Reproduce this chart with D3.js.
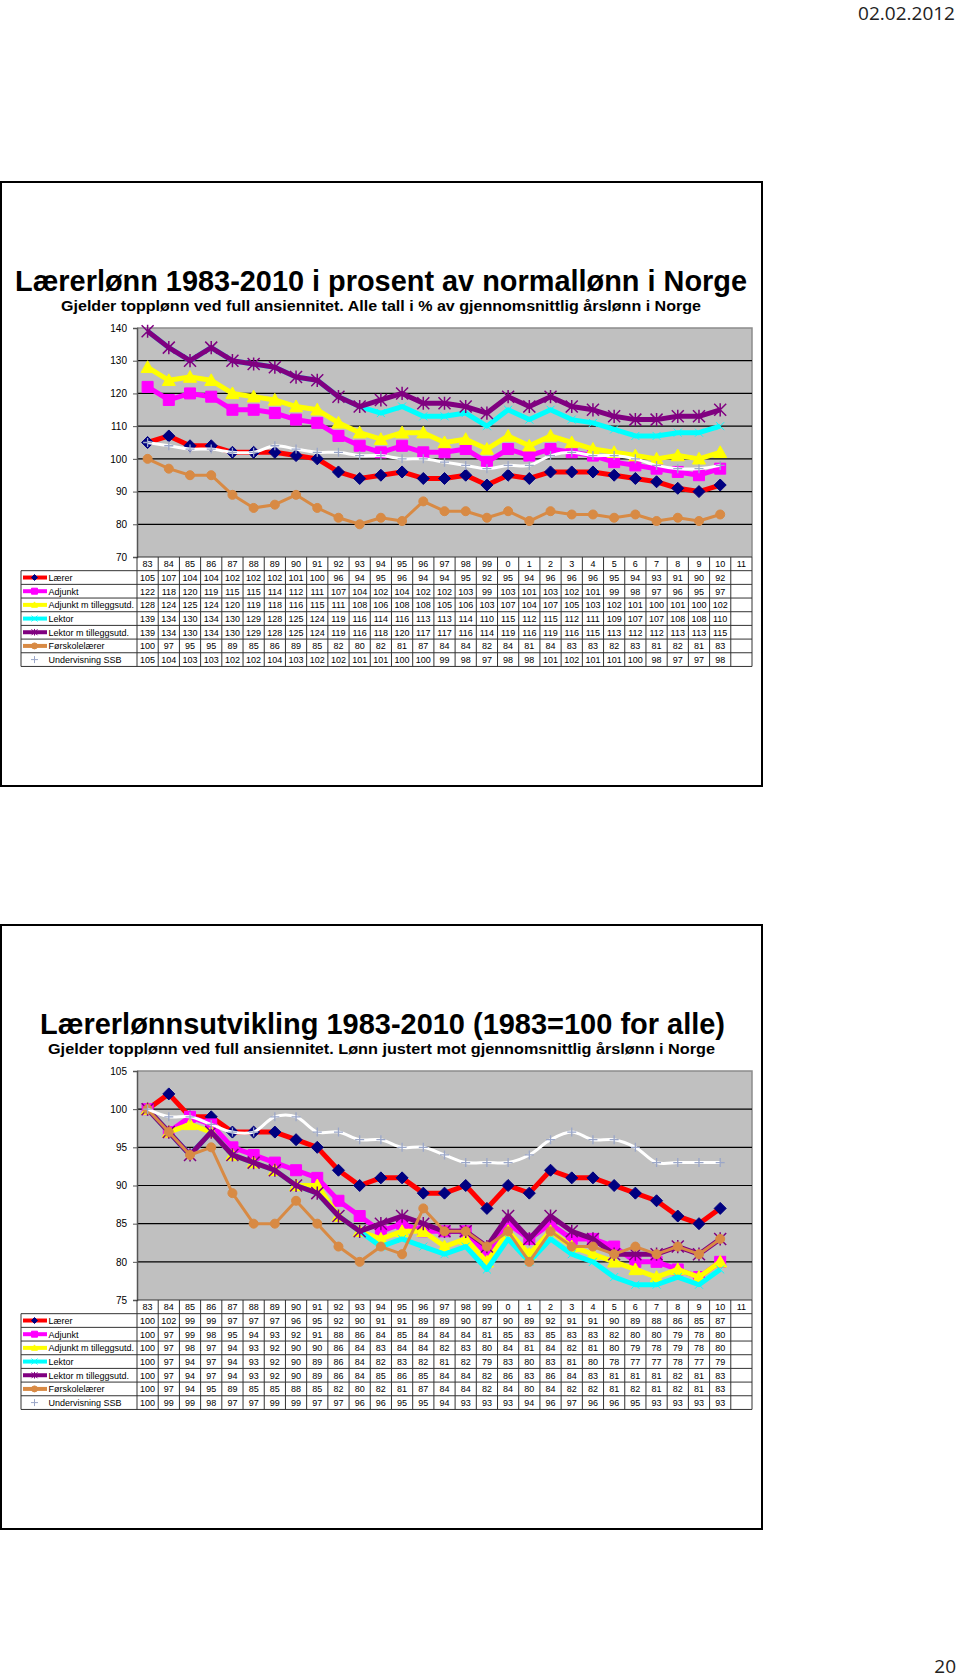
<!DOCTYPE html>
<html><head><meta charset="utf-8">
<script src="https://cdn.jsdelivr.net/npm/d3@7"></script>
<style>body{margin:0;background:#fff}svg{display:block}</style>
</head><body>
<script>
// ---------- data ----------
const categories = ["83","84","85","86","87","88","89","90","91","92","93","94","95","96","97","98","99","0","1","2","3","4","5","6","7","8","9","10","11"];
const seriesNames = ["Lærer","Adjunkt","Adjunkt m tilleggsutd.","Lektor","Lektor m tilleggsutd.","Førskolelærer","Undervisning SSB"];

// Chart 1: % av gjennomsnittlig årslønn
const pctLaerer   = [105,107,104,104,102,102,102,101,100,96,94,95,96,94,94,95,92,95,94,96,96,96,95,94,93,91,90,92];
const pctAdjunkt  = [122,118,120,119,115,115,114,112,111,107,104,102,104,102,102,103,99,103,101,103,102,101,99,98,97,96,95,97];
const pctAdjunktT = [128,124,125,124,120,119,118,116,115,111,108,106,108,108,105,106,103,107,104,107,105,103,102,101,100,101,100,102];
const pctLektor   = [139,134,130,134,130,129,128,125,124,119,116,114,116,113,113,114,110,115,112,115,112,111,109,107,107,108,108,110];
const pctLektorT  = [139,134,130,134,130,129,128,125,124,119,116,118,120,117,117,116,114,119,116,119,116,115,113,112,112,113,113,115];
const pctForskole = [100,97,95,95,89,85,86,89,85,82,80,82,81,87,84,84,82,84,81,84,83,83,82,83,81,82,81,83];
const pctSSB      = [105,104,103,103,102,102,104,103,102,102,101,101,100,100,99,98,97,98,98,101,102,101,101,100,98,97,97,98];

// Chart 2: 1983 = 100
const idxLaerer   = [100,102,99,99,97,97,97,96,95,92,90,91,91,89,89,90,87,90,89,92,91,91,90,89,88,86,85,87];
const idxAdjunkt  = [100,97,99,98,95,94,93,92,91,88,86,84,85,84,84,84,81,85,83,85,83,83,82,80,80,79,78,80];
const idxAdjunktT = [100,97,98,97,94,93,92,90,90,86,84,83,84,84,82,83,80,84,81,84,82,81,80,79,78,79,78,80];
const idxLektor   = [100,97,94,97,94,93,92,90,89,86,84,82,83,82,81,82,79,83,80,83,81,80,78,77,77,78,77,79];
const idxLektorT  = [100,97,94,97,94,93,92,90,89,86,84,85,86,85,84,84,82,86,83,86,84,83,81,81,81,82,81,83];
const idxForskole = [100,97,94,95,89,85,85,88,85,82,80,82,81,87,84,84,82,84,80,84,82,82,81,82,81,82,81,83];
const idxSSB      = [100,99,99,98,97,97,99,99,97,97,96,96,95,95,94,93,93,93,94,96,97,96,96,95,93,93,93,93];

const ticks1 = [70,80,90,100,110,120,130,140];
const ticks2 = [75,80,85,90,95,100,105];

const title1 = "Lærerlønn 1983-2010 i prosent av normallønn i Norge";
const sub1 = "Gjelder topplønn ved full ansiennitet. Alle tall i % av gjennomsnittlig årslønn i Norge";
const title2 = "Lærerlønnsutvikling 1983-2010 (1983=100 for alle)";
const sub2 = "Gjelder topplønn ved full ansiennitet. Lønn justert mot gjennomsnittlig årslønn i Norge";

// ---------- styles ----------
const styles = [
  {line:"#ff0000", w:5,   marker:"diamond",  mfill:"#000080", mstroke:"#000080", r:6},
  {line:"#ff00ff", w:5,   marker:"square",   mfill:"#ff00ff", mstroke:"#ff00ff", r:5.5},
  {line:"#ffff00", w:5,   marker:"triangle", mfill:"#ffff00", mstroke:"#ffff00", r:6.5},
  {line:"#00ffff", w:5,   marker:"x",        mfill:"none",    mstroke:"#00ffff", r:4},
  {line:"#800080", w:5,   marker:"star",     mfill:"none",    mstroke:"#800080", r:6},
  {line:"#d88a44", w:3,   marker:"circle",   mfill:"#d88a44", mstroke:"#d88a44", r:4.5},
  {line:"#ffffff", w:3,   marker:"plus",     mfill:"none",    mstroke:"#9aa6c8", r:4.5, smooth:true}
];

function markerPath(type, r){
  switch(type){
    case "diamond": return `M0,${-r}L${r},0L0,${r}L${-r},0Z`;
    case "square": return `M${-r},${-r}H${r}V${r}H${-r}Z`;
    case "triangle": return `M0,${-r}L${r},${r*0.8}L${-r},${r*0.8}Z`;
    case "x": return `M${-r},${-r}L${r},${r}M${-r},${r}L${r},${-r}`;
    case "star": return `M${-r},${-r}L${r},${r}M${-r},${r}L${r},${-r}M0,${-r*1.1}L0,${r*1.1}`;
    case "plus": return `M${-r},0H${r}M0,${-r}V${r}`;
    case "circle": return d3.arc()({innerRadius:0,outerRadius:r,startAngle:0,endAngle:2*Math.PI});
  }
}

const W = 960, H = 1680;
const svg = d3.select("body").append("svg").attr("width",W).attr("height",H);

// page texts
svg.append("text").attr("x",955).attr("y",20).attr("text-anchor","end")
  .attr("font-family","'Open Sans',sans-serif").attr("font-size",19).attr("fill","#222").text("02.02.2012");
svg.append("text").attr("x",956).attr("y",1673).attr("text-anchor","end")
  .attr("font-family","'Open Sans',sans-serif").attr("font-size",19).attr("fill","#222").text("20");

function drawSlide(cfg){
  const g = svg.append("g");
  // frame
  g.append("rect").attr("x",1).attr("y",cfg.frameTop).attr("width",761).attr("height",604)
    .attr("fill","#fff").attr("stroke","#000").attr("stroke-width",2);
  const tf = "'Liberation Sans Narrow','Arial Narrow','Liberation Sans',Arial,sans-serif";
  g.append("text").attr("x",cfg.tx).attr("y",cfg.frameTop+109).attr("font-family",tf)
    .attr("font-weight","bold").attr("font-size",29).attr("textLength",cfg.tlen)
    .attr("lengthAdjust","spacingAndGlyphs").text(cfg.title);
  g.append("text").attr("x",cfg.sx).attr("y",cfg.frameTop+129).attr("font-family",tf)
    .attr("font-weight","bold").attr("font-size",14).attr("textLength",cfg.slen)
    .attr("lengthAdjust","spacingAndGlyphs").text(cfg.sub);

  const plotTop = cfg.frameTop+146, plotBottom = cfg.frameTop+375;
  const left = 137, right = 752;
  const x = d3.scaleBand().domain(categories).range([left,right]);
  const y = d3.scaleLinear().domain(cfg.domain).range([plotBottom,plotTop]);
  const cx = c => x(c)+x.bandwidth()/2;

  // plot area
  g.append("rect").attr("x",left).attr("y",plotTop).attr("width",right-left).attr("height",plotBottom-plotTop)
    .attr("fill","#c0c0c0");
  g.append("path").attr("d",`M${left},${plotTop}H${right}V${plotBottom}`).attr("fill","none")
    .attr("stroke","#8c8c8c").attr("stroke-width",1.5);
  // gridlines
  g.selectAll(null).data(cfg.ticks.slice(1,-1)).join("line")
    .attr("x1",left).attr("x2",right).attr("y1",d=>y(d)).attr("y2",d=>y(d))
    .attr("stroke","#000").attr("stroke-width",1.2);
  // y axis
  const ax = g.append("g").attr("transform",`translate(${left},0)`)
    .call(d3.axisLeft(y).tickValues(cfg.ticks).tickSize(4).tickPadding(6));
  ax.select(".domain").attr("stroke","#555").attr("stroke-width",1.5);
  ax.selectAll(".tick line").attr("stroke","#555");
  ax.selectAll("text").attr("font-family","'Liberation Sans',Arial,sans-serif").attr("font-size",10).attr("fill","#000");

  // series
  cfg.data.forEach((vals,i)=>{
    const st = styles[i];
    const pts = vals.map((v,j)=>[cx(categories[j]), y(v)]);
    const line = d3.line().curve(st.smooth ? d3.curveCatmullRom.alpha(0.5) : d3.curveLinear);
    g.append("path").attr("d",line(pts)).attr("fill","none").attr("stroke",st.line)
      .attr("stroke-width",st.w).attr("stroke-linejoin","round");
    g.selectAll(null).data(pts).join("path")
      .attr("transform",d=>`translate(${d[0]},${d[1]})`)
      .attr("d",markerPath(st.marker,st.r))
      .attr("fill",st.mfill).attr("stroke",st.mstroke).attr("stroke-width",st.marker==="star"?1.5:(st.marker==="plus"?1.3:1));
  });

  // data table
  const rowH = 13.68, tTop = plotBottom, tLeft = 21;
  const tg = g.append("g");
  const tblStroke = "#333";
  tg.selectAll(null).data(categories).join("text")
    .attr("x",d=>cx(d)).attr("y",tTop+rowH/2+3.3).attr("text-anchor","middle")
    .attr("font-family","'Liberation Sans',Arial,sans-serif").attr("font-size",9).text(d=>d);
  for(let k=0;k<=8;k++){
    const yy = tTop + k*rowH;
    tg.append("line").attr("x1",k===0?left:tLeft).attr("x2",right).attr("y1",yy).attr("y2",yy)
      .attr("stroke",tblStroke).attr("stroke-width",1);
  }
  tg.append("line").attr("x1",tLeft).attr("x2",tLeft).attr("y1",tTop+rowH).attr("y2",tTop+8*rowH)
    .attr("stroke",tblStroke).attr("stroke-width",1);
  for(let j=0;j<=categories.length;j++){
    const xx = left + j*x.step();
    tg.append("line").attr("x1",xx).attr("x2",xx).attr("y1",tTop).attr("y2",tTop+8*rowH)
      .attr("stroke",tblStroke).attr("stroke-width",1);
  }
  cfg.data.forEach((vals,i)=>{
    const st = styles[i];
    const ry = tTop + (i+1)*rowH, mid = ry + rowH/2;
    if(st.line!=="#ffffff"){
      tg.append("line").attr("x1",tLeft+2).attr("x2",47).attr("y1",mid).attr("y2",mid)
        .attr("stroke",st.line).attr("stroke-width",4);
    }
    tg.append("path").attr("transform",`translate(34.5,${mid})`)
      .attr("d",markerPath(st.marker, st.marker==="plus"?3.5:3))
      .attr("fill",st.mfill).attr("stroke",st.mstroke).attr("stroke-width",1);
    tg.append("text").attr("x",48.5).attr("y",mid+3.3)
      .attr("font-family","'Liberation Sans',Arial,sans-serif").attr("font-size",9)
      .text(seriesNames[i]);
    tg.selectAll(null).data(vals).join("text")
      .attr("x",(d,j)=>cx(categories[j])).attr("y",mid+3.3).attr("text-anchor","middle")
      .attr("font-family","'Liberation Sans',Arial,sans-serif").attr("font-size",9).text(d=>d);
  });
}

drawSlide({frameTop:182, title:title1, sub:sub1, tx:15, tlen:732, sx:61, slen:640,
  domain:[70,140], ticks:ticks1,
  data:[pctLaerer,pctAdjunkt,pctAdjunktT,pctLektor,pctLektorT,pctForskole,pctSSB]});
drawSlide({frameTop:925, title:title2, sub:sub2, tx:40, tlen:685, sx:48, slen:667,
  domain:[75,105], ticks:ticks2,
  data:[idxLaerer,idxAdjunkt,idxAdjunktT,idxLektor,idxLektorT,idxForskole,idxSSB]});
</script>
</body></html>
